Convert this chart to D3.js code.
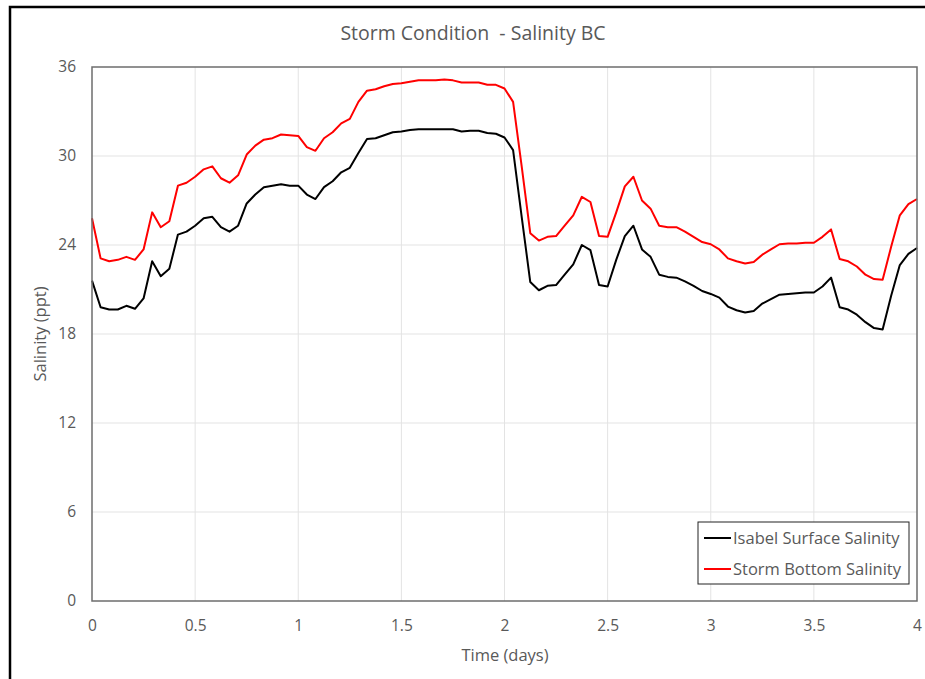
<!DOCTYPE html>
<html>
<head>
<meta charset="utf-8">
<script src="https://cdn.jsdelivr.net/npm/d3@7"></script>
<style>
  html, body { margin: 0; padding: 0; background: #fff; }
  svg { display: block; }
  text { font-family: "Open Sans", "Noto Sans", sans-serif; fill: #595959; }
</style>
</head>
<body>
<svg id="chart" width="925" height="679"></svg>
<script>
// Hourly samples over four days (0..96 h)
const hours = d3.range(0, 97);
const timeDays = hours.map(h => h / 24);

const isabelSurface = [
  21.6, 19.8, 19.65, 19.65, 19.9, 19.7, 20.4, 22.9, 21.9, 22.4,
  24.7, 24.9, 25.3, 25.8, 25.9, 25.2, 24.9, 25.3, 26.8, 27.4,
  27.9, 28.0, 28.1, 28.0, 28.0, 27.4, 27.1, 27.9, 28.3, 28.9,
  29.2, 30.2, 31.15, 31.2, 31.4, 31.6, 31.65, 31.75, 31.8, 31.8,
  31.8, 31.8, 31.8, 31.65, 31.7, 31.7, 31.55, 31.5, 31.25, 30.4,
  25.9, 21.5, 20.95, 21.25, 21.3, 22.0, 22.7, 24.0, 23.65, 21.3,
  21.2, 23.0, 24.6, 25.3, 23.7, 23.2, 22.0, 21.85, 21.8, 21.55,
  21.25, 20.9, 20.7, 20.45, 19.85, 19.6, 19.45, 19.55, 20.05, 20.35,
  20.65, 20.7, 20.75, 20.8, 20.8, 21.2, 21.8, 19.8, 19.65, 19.3,
  18.8, 18.4, 18.3, 20.6, 22.65, 23.4, 23.8
];

const stormBottom = [
  25.8, 23.1, 22.9, 23.0, 23.2, 23.0, 23.7, 26.2, 25.2, 25.6,
  28.0, 28.2, 28.6, 29.1, 29.3, 28.5, 28.2, 28.7, 30.1, 30.7,
  31.1, 31.2, 31.45, 31.4, 31.35, 30.6, 30.35, 31.2, 31.6, 32.2,
  32.5, 33.65, 34.4, 34.5, 34.7, 34.85, 34.9, 35.0, 35.1, 35.1,
  35.1, 35.15, 35.1, 34.95, 34.95, 34.95, 34.8, 34.8, 34.55, 33.65,
  29.3, 24.8, 24.3, 24.55, 24.6, 25.3, 26.0, 27.25, 26.9, 24.6,
  24.55, 26.2, 27.95, 28.6, 27.0, 26.45, 25.3, 25.2, 25.2, 24.9,
  24.55, 24.2, 24.05, 23.7, 23.1, 22.9, 22.75, 22.85, 23.35, 23.7,
  24.05, 24.1, 24.1, 24.15, 24.15, 24.55, 25.05, 23.05, 22.9, 22.55,
  22.0, 21.7, 21.65, 23.9, 26.0, 26.75, 27.1
];

const xTicks = [0, 0.5, 1, 1.5, 2, 2.5, 3, 3.5, 4];
const yTicks = [0, 6, 12, 18, 24, 30, 36];

const seriesNames = ["Isabel Surface Salinity", "Storm Bottom Salinity"];
const seriesColors = ["#000000", "#ff0000"];

const svg = d3.select("#chart");
const W = 925, H = 679;
const plot = { left: 92, right: 917, top: 67, bottom: 601 };

const x = d3.scaleLinear().domain([0, 4]).range([plot.left, plot.right]);
const y = d3.scaleLinear().domain([0, 36]).range([plot.bottom, plot.top]);

// page frame
svg.append("rect").attr("width", W).attr("height", H).attr("fill", "#fff");
svg.append("path")
  .attr("d", `M10,${H} L10,7 L${W},7`)
  .attr("fill", "none").attr("stroke", "#000").attr("stroke-width", 2.5);

// grid
const grid = svg.append("g");
grid.selectAll("line.v").data(xTicks.slice(1, -1)).join("line")
  .attr("x1", d => x(d)).attr("x2", d => x(d))
  .attr("y1", plot.top).attr("y2", plot.bottom)
  .attr("stroke", "#e3e3e3").attr("stroke-width", 1);
grid.selectAll("line.h").data(yTicks.slice(1, -1)).join("line")
  .attr("x1", plot.left).attr("x2", plot.right)
  .attr("y1", d => y(d)).attr("y2", d => y(d))
  .attr("stroke", "#e3e3e3").attr("stroke-width", 1);

// axes (labels only, frame drawn separately)
const xAxis = svg.append("g").attr("transform", `translate(0,${plot.bottom})`)
  .call(d3.axisBottom(x).tickValues(xTicks).tickSize(0).tickPadding(19).tickFormat(d3.format("")));
const yAxis = svg.append("g").attr("transform", `translate(${plot.left},0)`)
  .call(d3.axisLeft(y).tickValues(yTicks).tickSize(0).tickPadding(16).tickFormat(d3.format("")));
[xAxis, yAxis].forEach(a => {
  a.select(".domain").remove();
  a.selectAll("text").style("font-size", "15.5px").attr("fill", "#595959");
});

// series lines
const line = d3.line().x((d, i) => x(timeDays[i])).y(d => y(d));
[isabelSurface, stormBottom].forEach((s, k) => {
  svg.append("path").datum(s)
    .attr("d", line)
    .attr("fill", "none")
    .attr("stroke", seriesColors[k])
    .attr("stroke-width", 2)
    .attr("stroke-linejoin", "round");
});

// plot frame
svg.append("rect")
  .attr("x", plot.left).attr("y", plot.top)
  .attr("width", plot.right - plot.left).attr("height", plot.bottom - plot.top)
  .attr("fill", "none").attr("stroke", "#6d6d6d").attr("stroke-width", 1.5);

// titles
svg.append("text").attr("x", 473).attr("y", 40).attr("text-anchor", "middle")
  .style("font-size", "19.5px").style("white-space", "pre")
  .text("Storm Condition  - Salinity BC");
svg.append("text").attr("x", 505).attr("y", 661).attr("text-anchor", "middle")
  .style("font-size", "16.5px").text("Time (days)");
svg.append("text").attr("transform", `translate(46,334) rotate(-90)`)
  .attr("text-anchor", "middle").style("font-size", "16.5px").text("Salinity (ppt)");

// legend
const lg = svg.append("g");
lg.append("rect").attr("x", 698).attr("y", 522).attr("width", 211).attr("height", 62)
  .attr("fill", "#fff").attr("stroke", "#222").attr("stroke-width", 1);
seriesNames.forEach((name, k) => {
  const cy = 538 + k * 31;
  lg.append("line").attr("x1", 704).attr("x2", 731).attr("y1", cy).attr("y2", cy)
    .attr("stroke", seriesColors[k]).attr("stroke-width", 2);
  lg.append("text").attr("x", 733).attr("y", cy + 6).style("font-size", "16.5px").text(name);
});
</script>
</body>
</html>
